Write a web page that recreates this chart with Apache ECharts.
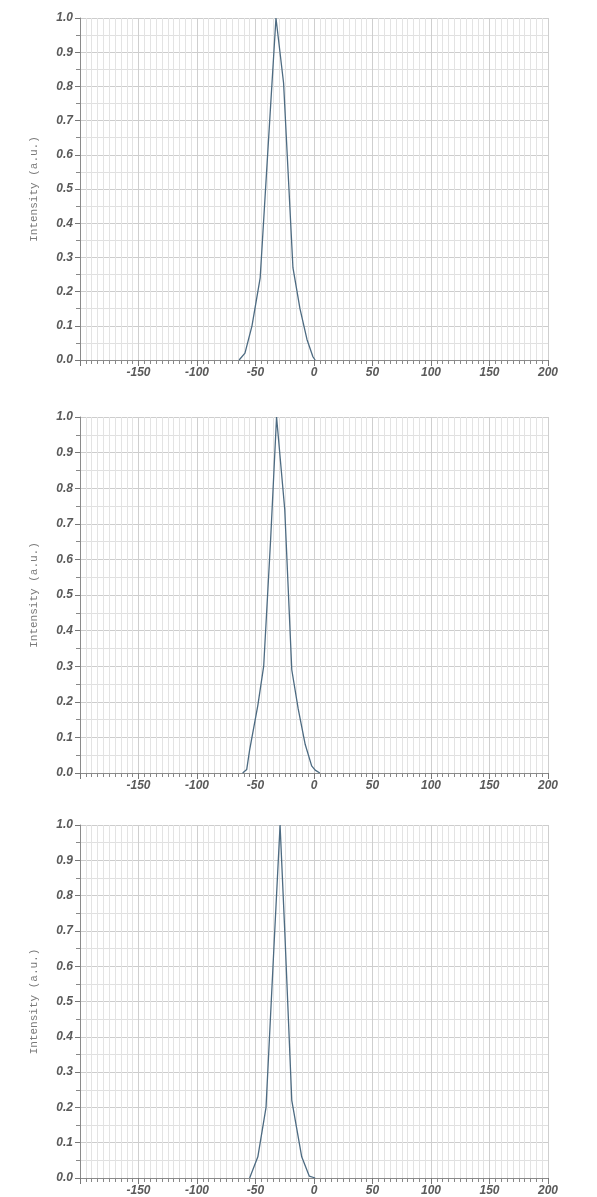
<!DOCTYPE html>
<html>
<head>
<meta charset="utf-8">
<script src="https://cdn.jsdelivr.net/npm/echarts@6/dist/echarts.min.js"></script>
<style>
html,body{margin:0;padding:0;background:#fff;}
#chart{width:597px;height:1197px;}
</style>
</head>
<body>
<div id="chart"></div>
<script>
// Panel 1 trace
const panel1X = [-64, -59, -53, -46, -40, -32.5, -26, -18, -12, -6, -1, 1];
const panel1Y = [0, 0.02, 0.1, 0.24, 0.58, 1.0, 0.81, 0.27, 0.15, 0.06, 0.01, 0];
// Panel 2 trace
const panel2X = [-61, -57.5, -55, -48, -43, -37, -32, -25, -19, -13.5, -7.5, -2, 1, 5];
const panel2Y = [0, 0.01, 0.065, 0.19, 0.3, 0.66, 1.0, 0.74, 0.29, 0.18, 0.08, 0.02, 0.008, 0];
// Panel 3 trace
const panel3X = [-55, -48, -41, -34, -29, -25, -19, -10.5, -4, 1];
const panel3Y = [0, 0.06, 0.2, 0.67, 1.0, 0.7, 0.22, 0.06, 0.005, 0];

const xTickLabels = [-150, -100, -50, 0, 50, 100, 150, 200];
const yTickLabels = ['0.0','0.1','0.2','0.3','0.4','0.5','0.6','0.7','0.8','0.9','1.0'];
const yName = 'Intensity (a.u.)';

const panels = [
  {x: panel1X, y: panel1Y, top: 18, height: 342},
  {x: panel2X, y: panel2Y, top: 417, height: 356},
  {x: panel3X, y: panel3Y, top: 825, height: 353}
];

const labelStyle = {
  color: '#5a5a5a',
  fontFamily: 'Liberation Sans, Arial, sans-serif',
  fontWeight: 'bold',
  fontStyle: 'italic',
  fontSize: 12
};

const grids = [], xAxes = [], yAxes = [], series = [];
panels.forEach((p, i) => {
  grids.push({left: 80, right: 49, top: p.top, height: p.height});
  xAxes.push({
    type: 'value', gridIndex: i, min: -200, max: 200, interval: 50,
    axisLine: {show: true, onZero: false, lineStyle: {color: '#8a8a8a', width: 1}},
    axisTick: {show: true, length: 6, lineStyle: {color: '#777'}},
    minorTick: {show: true, splitNumber: 10, length: 4, lineStyle: {color: '#888'}},
    splitLine: {show: true, lineStyle: {color: '#cfcfcf', width: 1}},
    minorSplitLine: {show: true, lineStyle: {color: '#e3e3e3', width: 1}},
    axisLabel: Object.assign({
      margin: 7,
      formatter: v => xTickLabels.indexOf(v) >= 0 ? String(v) : ''
    }, labelStyle)
  });
  yAxes.push({
    type: 'value', gridIndex: i, min: 0, max: 1, interval: 0.1,
    name: yName, nameLocation: 'middle', nameGap: 40,
    nameTextStyle: {color: '#7a7a7a', fontFamily: 'Liberation Mono, DejaVu Sans Mono, monospace', fontSize: 11},
    axisLine: {show: true, onZero: false, lineStyle: {color: '#8a8a8a', width: 1}},
    axisTick: {show: true, length: 5, lineStyle: {color: '#777'}},
    minorTick: {show: true, splitNumber: 2, length: 4, lineStyle: {color: '#888'}},
    splitLine: {show: true, lineStyle: {color: '#cdcdcd', width: 1}},
    minorSplitLine: {show: true, lineStyle: {color: '#e0e0e0', width: 1}},
    axisLabel: Object.assign({
      margin: 7,
      formatter: v => yTickLabels[Math.round(v * 10)]
    }, labelStyle)
  });
  series.push({
    type: 'line', xAxisIndex: i, yAxisIndex: i,
    data: p.x.map((xv, k) => [xv, p.y[k]]),
    showSymbol: false, smooth: false,
    lineStyle: {color: '#4d6b82', width: 1.3},
    silent: true, animation: false
  });
});

const chart = echarts.init(document.getElementById('chart'));
chart.setOption({
  backgroundColor: '#ffffff',
  animation: false,
  grid: grids,
  xAxis: xAxes,
  yAxis: yAxes,
  series: series
});
</script>
</body>
</html>
